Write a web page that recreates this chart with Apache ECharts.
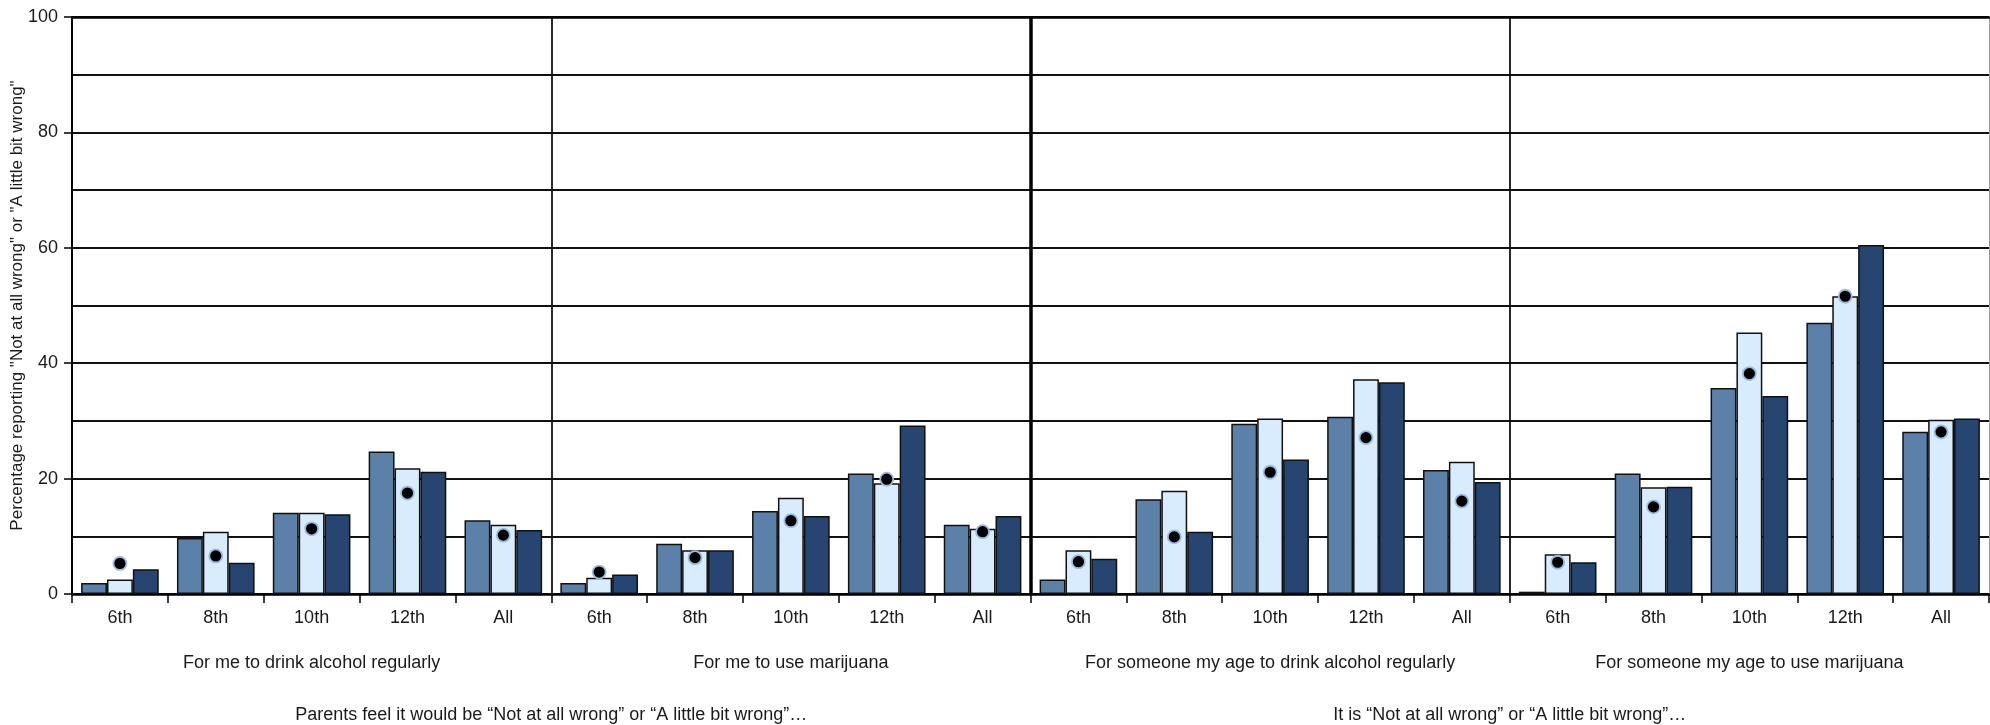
<!DOCTYPE html>
<html>
<head>
<meta charset="utf-8">
<script src="https://cdn.jsdelivr.net/npm/echarts@6/dist/echarts.min.js"></script>
<style>
  html, body { margin: 0; padding: 0; background: #fff; }
  #chart { width: 1990px; height: 725px; }
</style>
</head>
<body>
<div id="chart"></div>
<script>
// ---- Data ----
const grades = ['6th', '8th', '10th', '12th', 'All'];
const panelLabels = [
  'For me to drink alcohol regularly',
  'For me to use marijuana',
  'For someone my age to drink alcohol regularly',
  'For someone my age to use marijuana'
];
const sectionLabels = [
  'Parents feel it would be “Not at all wrong” or “A little bit wrong”…',
  'It is “Not at all wrong” or “A little bit wrong”…'
];
const yTitle = 'Percentage reporting "Not at all wrong" or "A little bit wrong"';

const seriesA = [1.9, 9.7, 14.1, 24.7, 12.8,   1.9, 8.7, 14.4, 20.9, 12.0,   2.5, 16.4, 29.5, 30.7, 21.5,   0.4, 20.9, 35.7, 47.0, 28.1];
const seriesB = [2.5, 10.8, 14.1, 21.8, 12.0,  2.8, 7.6, 16.7, 19.2, 11.3,   7.6, 17.9, 30.4, 37.2, 22.9,   6.9, 18.5, 45.3, 51.6, 30.2];
const seriesC = [4.3, 5.4, 13.8, 21.2, 11.1,   3.4, 7.6, 13.5, 29.2, 13.5,   6.1, 10.8, 23.3, 36.7, 19.4,   5.5, 18.6, 34.3, 60.5, 30.4];
const dotValues = [5.3, 6.6, 11.3, 17.5, 10.2, 3.8, 6.3, 12.7, 19.9, 10.8,   5.6, 9.9, 21.1, 27.1, 16.1,    5.5, 15.1, 38.2, 51.6, 28.1];

// category keys (unique) built from panels x grades
const categories = [];
panelLabels.forEach((p, pi) => grades.forEach(g => categories.push(pi + '|' + g)));

const FONT = 'Liberation Sans, Arial, sans-serif';
const TXT = '#1a1a1a';

const chart = echarts.init(document.getElementById('chart'), null, { renderer: 'canvas' });
const option = {
  animation: false,
  backgroundColor: '#fff',
  textStyle: { fontFamily: FONT, color: TXT },
  grid: { left: 72, right: 1, top: 17, bottom: 131, containLabel: false, outerBoundsMode: 'none' },
  xAxis: [
    {
      type: 'category', data: categories, position: 'bottom',
      axisLine: { show: true, onZero: false, lineStyle: { color: '#000', width: 2.5 } },
      axisTick: { show: true, length: 9, interval: 0, lineStyle: { color: '#000', width: 1.5 } },
      axisLabel: { interval: 0, margin: 15, fontSize: 18, color: TXT, fontFamily: FONT,
        formatter: v => v.split('|')[1] },
      splitLine: { show: false }
    },
    {
      type: 'category', data: panelLabels, position: 'bottom',
      axisLine: { show: false }, axisTick: { show: false },
      axisLabel: { interval: 0, margin: 60, fontSize: 18, color: TXT, fontFamily: FONT },
      splitLine: { show: true, showMinLine: false, showMaxLine: false, interval: 0,
        lineStyle: { color: '#111', width: 1.8 } }
    },
    {
      type: 'category', data: sectionLabels, position: 'bottom',
      axisLine: { show: false }, axisTick: { show: false },
      axisLabel: { interval: 0, margin: 112, fontSize: 18, color: TXT, fontFamily: FONT },
      splitLine: { show: true, showMinLine: false, showMaxLine: false, interval: 0,
        lineStyle: { color: '#000', width: 3.5 } }
    },
    {
      type: 'category', data: sectionLabels, position: 'top',
      axisLine: { show: true, onZero: false, lineStyle: { color: '#000', width: 2.5 } },
      axisTick: { show: false }, axisLabel: { show: false }, splitLine: { show: false }
    }
  ],
  yAxis: [
    {
      type: 'value', min: 0, max: 100, interval: 20, position: 'left',
      name: yTitle, nameLocation: 'middle', nameGap: 46, nameMoveOverlap: false,
      nameTextStyle: { fontSize: 17, color: TXT, fontFamily: FONT },
      axisLine: { show: true, lineStyle: { color: '#000', width: 2 } },
      axisTick: { show: true, length: 8, lineStyle: { color: '#000', width: 1.5 } },
      axisLabel: { margin: 14, fontSize: 18, color: TXT, fontFamily: FONT },
      splitLine: { show: false }
    },
    {
      type: 'value', min: 0, max: 100, interval: 10, position: 'right',
      axisLine: { show: true, lineStyle: { color: '#999', width: 1 } },
      axisTick: { show: false }, axisLabel: { show: false },
      splitLine: { show: true, lineStyle: { color: '#111', width: 2 } }
    }
  ],
  series: [
    { name: 'A', type: 'bar', data: seriesA, barGap: '0%', barCategoryGap: '19%',
      itemStyle: { color: '#5b81a9', borderColor: '#111', borderWidth: 1.5 } },
    { name: 'B', type: 'bar', data: seriesB, barGap: '0%', barCategoryGap: '19%',
      itemStyle: { color: '#d9ecfd', borderColor: '#111', borderWidth: 1.5 } },
    { name: 'C', type: 'bar', data: seriesC, barGap: '0%', barCategoryGap: '19%',
      itemStyle: { color: '#264570', borderColor: '#111', borderWidth: 1.5 } },
    { name: 'Dot', type: 'scatter', data: dotValues, symbol: 'circle', symbolSize: 13, z: 5,
      itemStyle: { color: '#000', borderColor: '#9bbbe0', borderWidth: 1.8, opacity: 1 } }
  ]
};
chart.setOption(option);
</script>
</body>
</html>
